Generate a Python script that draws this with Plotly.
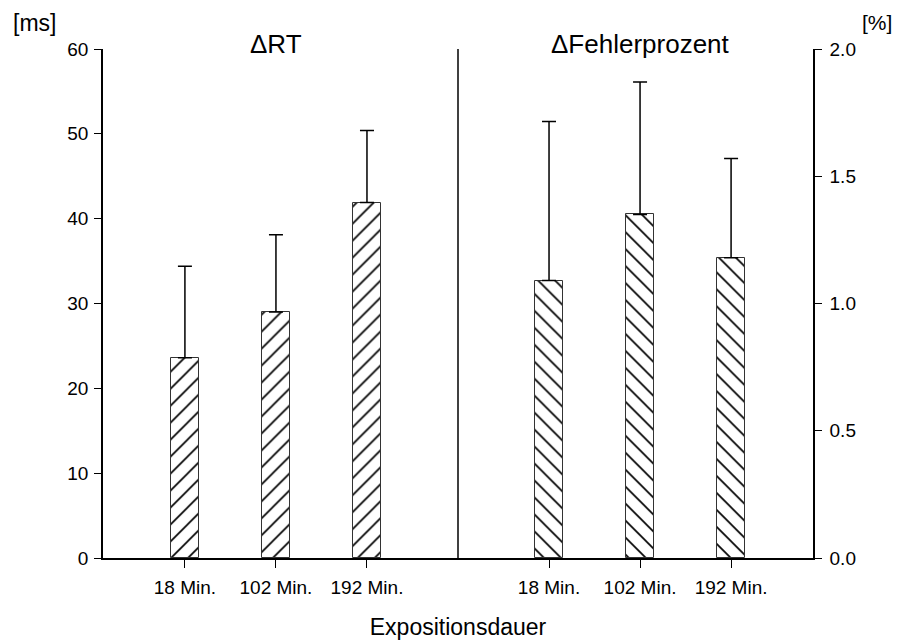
import plotly.graph_objects as go

# Exposure durations (shared by both panels)
durations = ["18 Min.", "102 Min.", "192 Min."]

# Delta reaction time [ms]: means and upper SD
rt_mean = [23.6, 29.0, 41.9]
rt_sd = [10.8, 9.1, 8.5]

# Delta error percentage [%]: means and upper SD
err_mean = [1.09, 1.35, 1.18]
err_sd = [0.625, 0.52, 0.39]

panel_titles = ["\u0394RT", "\u0394Fehlerprozent"]
x_title = "Expositionsdauer"

FONT = "Liberation Sans, Arial, sans-serif"

# slot positions: left panel 0..2, empty slot 3 as divider, right panel 4..6
left_x = list(range(len(durations)))
divider_x = len(durations)
right_x = [divider_x + 1 + i for i in range(len(durations))]

bar_width = 0.31
PLOT_W, PLOT_H = 710, 509


def hatched(shape):
    return dict(color="white", line=dict(color="#333333", width=1),
                pattern=dict(shape=shape, fgcolor="black", fgopacity=1,
                             bgcolor="white", size=12, solidity=0.14))


def upper_err(values):
    return dict(type="data", symmetric=False, array=values,
                arrayminus=[0] * len(values), color="black",
                thickness=1.5, width=7)


fig = go.Figure()

fig.add_trace(go.Bar(x=left_x, y=rt_mean, width=bar_width,
                     marker=hatched("/"), error_y=upper_err(rt_sd),
                     yaxis="y", showlegend=False))

fig.add_trace(go.Bar(x=right_x, y=err_mean, width=bar_width,
                     marker=hatched("\\"), error_y=upper_err(err_sd),
                     yaxis="y2", showlegend=False))

# vertical divider between the two panels
fig.add_shape(type="line", xref="x", yref="paper",
              x0=divider_x, x1=divider_x, y0=0, y1=1,
              line=dict(color="black", width=1.5))

# panel titles
for xpos, txt in zip([left_x[1], right_x[1]], panel_titles):
    fig.add_annotation(x=xpos, y=1 + 5 / PLOT_H, xref="x", yref="paper",
                       text=txt, showarrow=False, yanchor="middle",
                       font=dict(family=FONT, size=26, color="black"))

# unit labels
fig.add_annotation(x=-92 / PLOT_W, y=1 + 26 / PLOT_H, xref="paper", yref="paper",
                   xanchor="left", yanchor="middle", text="[ms]",
                   showarrow=False, font=dict(family=FONT, size=23, color="black"))
fig.add_annotation(x=1 + 81 / PLOT_W, y=1 + 26 / PLOT_H, xref="paper", yref="paper",
                   xanchor="right", yanchor="middle", text="[%]",
                   showarrow=False, font=dict(family=FONT, size=21, color="black"))

axis_common = dict(ticks="outside", ticklen=7, tickwidth=1.2, tickcolor="black",
                   showline=True, linecolor="black", linewidth=1.5,
                   showgrid=False, zeroline=False, automargin=False,
                   tickfont=dict(family=FONT, size=19, color="black"))

fig.update_layout(
    width=902, height=643,
    margin=dict(l=103, r=89, t=49, b=85),
    plot_bgcolor="white", paper_bgcolor="white",
    font=dict(family=FONT, size=19, color="black"),
    bargap=0,
    xaxis=dict(
        axis_common,
        range=[-0.9, 6.9],
        tickvals=left_x + right_x,
        ticktext=durations + durations,
        ticklen=8, linewidth=2, ticklabelstandoff=3,
        title=dict(text=x_title, font=dict(family=FONT, size=23, color="black"),
                   standoff=22),
    ),
    yaxis=dict(axis_common, range=[0, 60], dtick=10, ticklabelstandoff=2),
    yaxis2=dict(axis_common, range=[0, 2.0], dtick=0.5, tickformat=".1f",
                overlaying="y", side="right", anchor="x", ticklabelstandoff=4),
)

fig.write_html("out.html")
